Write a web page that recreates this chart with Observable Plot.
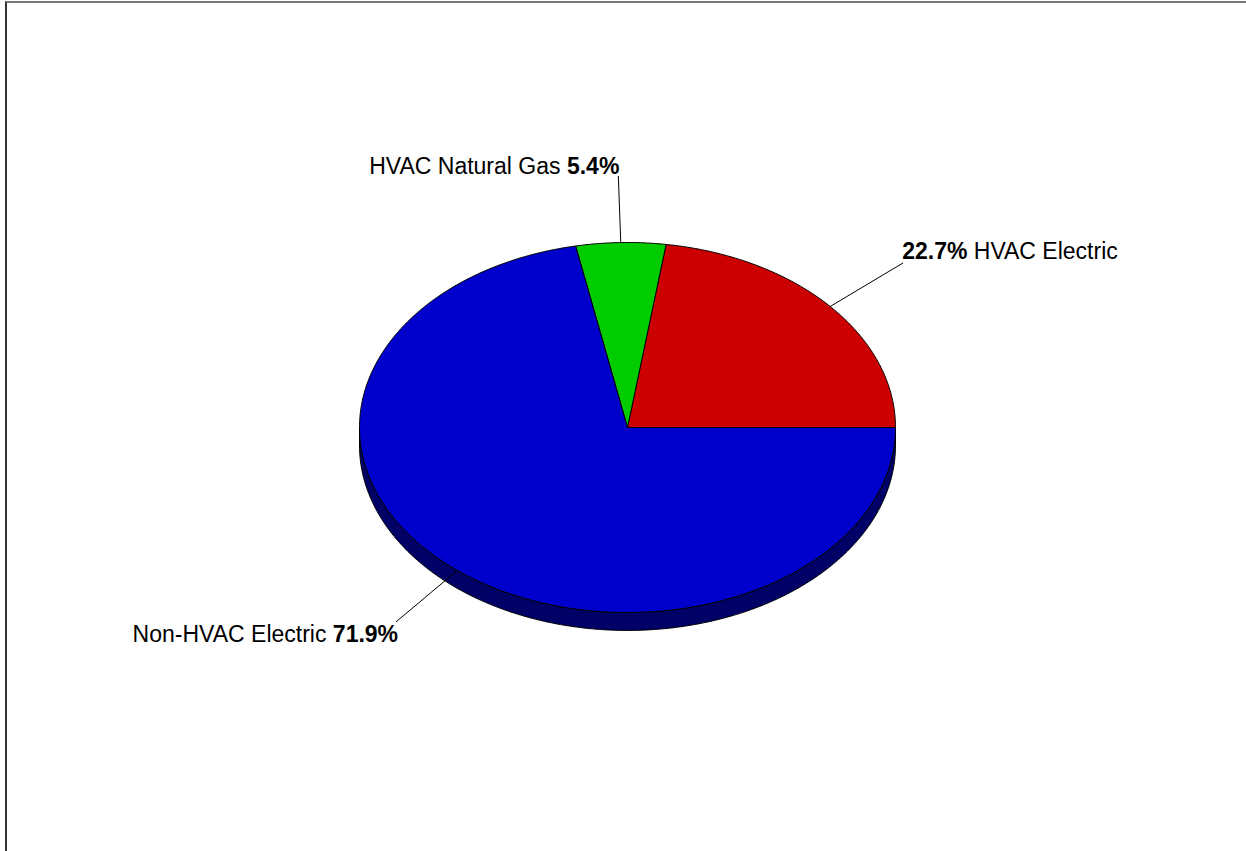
<!DOCTYPE html>
<html><head><meta charset="utf-8">
<script src="https://cdn.jsdelivr.net/npm/d3@7"></script>
<script src="https://cdn.jsdelivr.net/npm/@observablehq/plot@0.6"></script>
<style>
body{margin:0;background:#fff;}
#wrap{position:relative;width:1246px;height:851px;overflow:hidden;background:#fff;}
#frame{position:absolute;left:5px;top:1px;right:-10px;bottom:-10px;border-top:2px solid #777;border-left:2px solid #333;pointer-events:none;}
</style></head><body>
<div id="wrap"><div id="chart"></div><div id="frame"></div></div>
<script>
// ---- data ----
const categories = ["HVAC Electric", "HVAC Natural Gas", "Non-HVAC Electric"];
const shares = [22.7, 5.4, 71.9];
const pctLabels = ["22.7%", "5.4%", "71.9%"];
// ---- styles ----
const topColors = ["#CC0000", "#00CC00", "#0000CC"];
const sideColors = ["#660000", "#006600", "#000066"];
const depth = 0.097;      // pie thickness in y-units
const leaderR = 1.36;     // leader line outer radius factor

const total = d3.sum(shares);
let acc = 0;
const slices = categories.map((name, i) => {
  const a0 = acc / total * 2 * Math.PI;
  acc += shares[i];
  const a1 = acc / total * 2 * Math.PI;
  return {i, name, pct: pctLabels[i], a0, a1, mid: (a0 + a1) / 2};
});

function arcPts(s, e, off) {
  const n = Math.max(2, Math.ceil((e - s) / (Math.PI / 360)));
  const pts = [];
  for (let k = 0; k <= n; k++) {
    const t = s + (e - s) * k / n;
    pts.push([Math.cos(t), Math.sin(t) - off]);
  }
  return pts;
}

// side walls (visible front half: angles between PI and 2PI)
const sideRows = [];
slices.forEach(sl => {
  const s = Math.max(sl.a0, Math.PI), e = Math.min(sl.a1, 2 * Math.PI);
  if (e > s) {
    const top = arcPts(s, e, 0);
    const bot = arcPts(s, e, depth).reverse();
    const poly = top.concat(bot, [top[0]]);
    poly.forEach(([x, y]) => sideRows.push({id: sl.i, x, y, c: sideColors[sl.i]}));
  }
});

// top faces
const topRows = [];
slices.forEach(sl => {
  const poly = [[0, 0]].concat(arcPts(sl.a0, sl.a1, 0), [[0, 0]]);
  poly.forEach(([x, y]) => topRows.push({id: sl.i, x, y, c: topColors[sl.i]}));
});

// leaders
const leaders = slices.map(sl => ({
  ...sl,
  x1: Math.cos(sl.mid), y1: Math.sin(sl.mid),
  x2: leaderR * Math.cos(sl.mid), y2: leaderR * Math.sin(sl.mid)
}));
const right = leaders.filter(d => Math.cos(d.mid) > 0.3);
const topL = leaders.filter(d => Math.cos(d.mid) <= 0.3 && Math.sin(d.mid) > 0);
const lowL = leaders.filter(d => Math.cos(d.mid) <= 0.3 && Math.sin(d.mid) <= 0);

const font = "23px";
const textOpts = {x: "x2", y: "y2", fontSize: font, lineAnchor: "bottom", fill: "black", className: "pie-label"};

const chart = Plot.plot({
  width: 1246, height: 851,
  margin: 0,
  x: {domain: [-1, 1], range: [359, 895], axis: null},
  y: {domain: [-1, 1], range: [612, 242], axis: null},
  style: {fontFamily: "'Liberation Sans', Arial, sans-serif", background: "white"},
  marks: [
    Plot.line(sideRows, {x: "x", y: "y", z: "id", fill: "c", stroke: "black", strokeWidth: 1, curve: "linear"}),
    Plot.line(topRows, {x: "x", y: "y", z: "id", fill: "c", stroke: "black", strokeWidth: 1, curve: "linear"}),
    Plot.link(leaders, {x1: "x1", y1: "y1", x2: "x2", y2: "y2", stroke: "black", strokeWidth: 1}),
    Plot.text(right, {...textOpts, text: d => `${d.pct} ${d.name}`, textAnchor: "start", dx: -1, dy: -4}),
    Plot.text(topL, {...textOpts, text: d => `${d.name} ${d.pct}`, textAnchor: "end", dx: 1, dy: -2}),
    Plot.text(lowL, {...textOpts, text: d => `${d.name} ${d.pct}`, textAnchor: "end", dx: 2, dy: 20})
  ]
});

// make the percentage part bold
d3.select(chart).selectAll(".pie-label text").each(function() {
  const t = this.textContent;
  const m = t.match(/\d+(\.\d+)?%/);
  if (!m) return;
  const before = t.slice(0, m.index), after = t.slice(m.index + m[0].length);
  const sel = d3.select(this);
  sel.text(null);
  if (before) sel.append("tspan").text(before);
  sel.append("tspan").attr("font-weight", "bold").text(m[0]);
  if (after) sel.append("tspan").text(after);
});

document.getElementById("chart").appendChild(chart);
</script>
</body></html>
